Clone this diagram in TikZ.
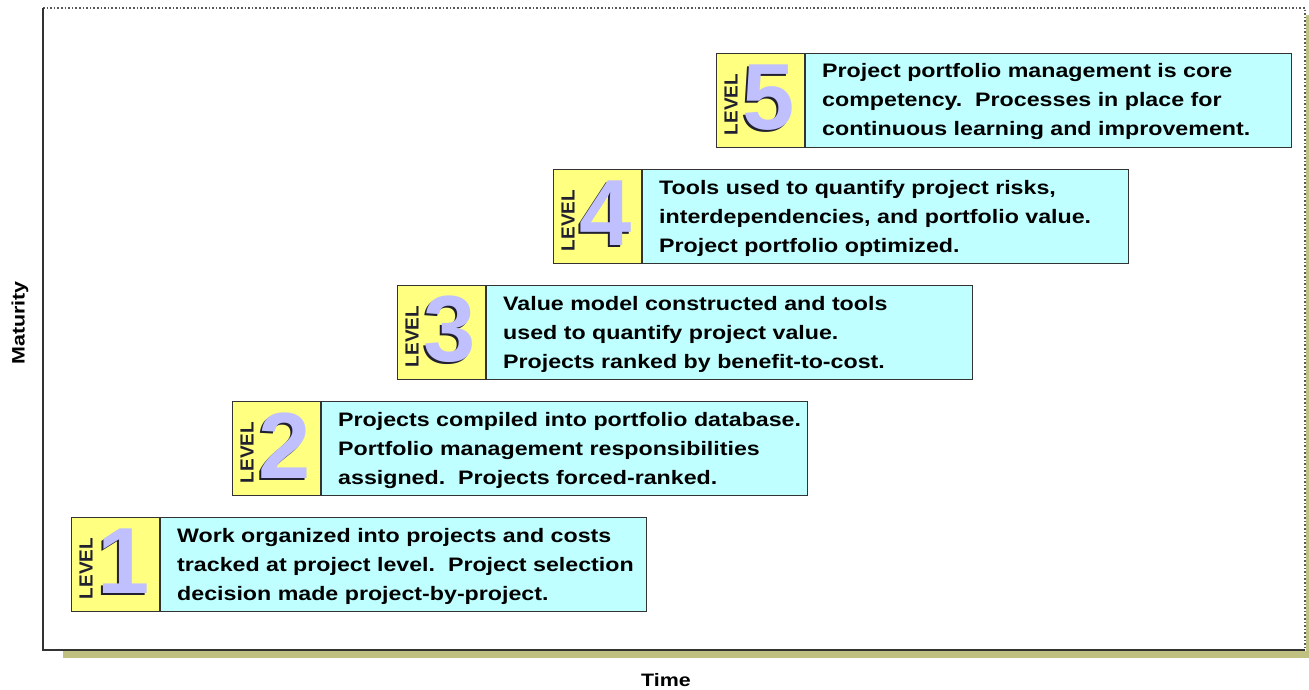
\documentclass[tikz,border=0pt]{standalone}
\usepackage{fontspec}
\setmainfont{Liberation Sans}
\newfontfamily\widesans[FakeStretch=1.19]{Liberation Sans}
\usetikzlibrary{calc}
\definecolor{tagyellow}{HTML}{FFFF80}
\definecolor{desccyan}{HTML}{C0FFFF}
\definecolor{digitlav}{HTML}{C0C0FF}
\definecolor{frameolive}{HTML}{C0C080}
\definecolor{edgegray}{HTML}{333333}
\definecolor{inkdark}{HTML}{202030}

\tikzset{
  tagbox/.style={draw=edgegray, line width=1.4pt, fill=tagyellow,
    minimum width=87.6pt, minimum height=93.6pt, inner sep=0pt, anchor=north west},
  descbox/.style={draw=edgegray, line width=1.4pt, fill=desccyan,
    minimum width=486pt, minimum height=93.6pt, inner sep=0pt, anchor=north west},
  leveltext/.style={rotate=90, inner sep=0pt, text=inkdark,
    font=\bfseries\fontsize{19}{19}\selectfont},
  digitshadow/.style={inner sep=0pt, text=inkdark,
    font=\bfseries\fontsize{94}{94}\selectfont},
  digitface/.style={inner sep=0pt, text=digitlav,
    font=\bfseries\fontsize{94}{94}\selectfont},
  desctext/.style={anchor=west, align=left, inner sep=0pt, text=black,
    font=\widesans\bfseries\fontsize{19.5}{29}\selectfont},
  axislabel/.style={inner sep=0pt, text=black,
    font=\widesans\bfseries\fontsize{18}{18}\selectfont},
  axisline/.style={draw=edgegray, line width=1.6pt},
  dottedframe/.style={draw=black!65, line width=1.6pt, dotted},
}

% one maturity level: #1 left edge, #2 top edge, #3 digit, #4 description
\newcommand\maturitylevel[4]{%
  \node[tagbox] (tag#3) at (#1,#2) {};
  \node[descbox] (desc#3) at (tag#3.north east) {};
  \node[leveltext] (word#3) at ($(tag#3.west)+(15,4)$) {LEVEL};
  \node[digitshadow] (shade#3) at ($(tag#3.west)+(51,-1)$) {#3};
  \node[digitface] (digit#3) at ($(tag#3.west)+(53,-3)$) {#3};
  \node[desctext] (text#3) at ($(desc#3.west)+(17,1.5)$) {#4};
}

\begin{document}
\begin{tikzpicture}[x=1pt, y=-1pt]
\useasboundingbox (0,0) rectangle (1309,690);

% drop shadow of the chart area
\fill[frameolive] (63,651) rectangle (1309,658);
\fill[frameolive] (1306,15) rectangle (1309,658);

% chart frame and axes
\draw[dottedframe] (43,8) -- (1305,8) -- (1305,650);
\draw[axisline] (43,8) -- (43,650) -- (1305,650);

\node[axislabel, rotate=90] (ylabel) at (20,323) {Maturity};
\node[axislabel] (xlabel) at (666,680) {Time};

\maturitylevel{71}{517}{1}{Work organized into projects and costs\\tracked at project level.\ \ Project selection\\decision made project-by-project.}
\maturitylevel{232}{401}{2}{Projects compiled into portfolio database.\\Portfolio management responsibilities\\assigned.\ \ Projects forced-ranked.}
\maturitylevel{397}{285}{3}{Value model constructed and tools\\used to quantify project value.\\Projects ranked by benefit-to-cost.}
\maturitylevel{553}{169}{4}{Tools used to quantify project risks,\\interdependencies, and portfolio value.\\Project portfolio optimized.}
\maturitylevel{716}{53}{5}{Project portfolio management is core\\competency.\ \ Processes in place for\\continuous learning and improvement.}
\end{tikzpicture}
\end{document}
